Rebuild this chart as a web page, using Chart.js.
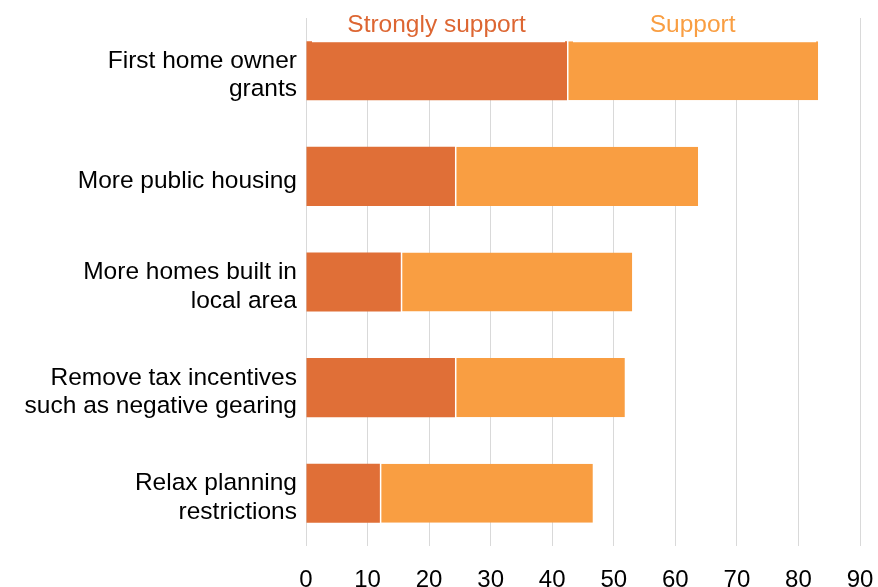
<!DOCTYPE html>
<html>
<head>
<meta charset="utf-8">
<script src="https://cdn.jsdelivr.net/npm/chart.js@4"></script>
<style>
  html, body { margin: 0; padding: 0; background: #fff; }
  #wrap { width: 878px; height: 587px; position: relative; }
</style>
</head>
<body>
<div id="wrap"><canvas id="chart"></canvas></div>
<script>
"use strict";

// Survey categories (y axis, top to bottom)
const categories = [
  ["First home owner", "grants"],
  ["More public housing"],
  ["More homes built in", "local area"],
  ["Remove tax incentives", "such as negative gearing"],
  ["Relax planning", "restrictions"]
];

// Series values (percent)
const stronglySupport = [42.4, 24.2, 15.4, 24.2, 12.0];
const support = [40.8, 39.5, 37.6, 27.6, 34.6];

const seriesNames = ["Strongly support", "Support"];
const xTicks = [0, 10, 20, 30, 40, 50, 60, 70, 80, 90];

const darkOrange = "#E06F37";
const lightOrange = "#F99E42";
const fontFamily = "'Liberation Sans', Arial, sans-serif";

// Draw the series names above the first bar, on white boxes that hide the grid
const topLabels = {
  id: "topLabels",
  afterDatasetsDraw(chart) {
    const ctx = chart.ctx;
    const x = chart.scales.x;
    const top = chart.getDatasetMeta(0).data[0];
    const barTop = top.y - top.height / 2;
    const segs = [
      [0, stronglySupport[0], "#DD6632"],
      [stronglySupport[0], stronglySupport[0] + support[0], lightOrange]
    ];
    ctx.save();
    segs.forEach((s, i) => {
      const x0 = x.getPixelForValue(s[0]);
      const x1 = x.getPixelForValue(s[1]);
      ctx.fillStyle = "#fff";
      ctx.fillRect(x0 + 6, 0, x1 - x0 - 8, barTop + 1);
      ctx.fillStyle = s[2];
      ctx.font = "24.5px " + fontFamily;
      ctx.textAlign = "center";
      ctx.textBaseline = "middle";
      ctx.fillText(seriesNames[i], (x0 + x1) / 2, 25);
    });
    ctx.restore();
  }
};

new Chart(document.getElementById("chart"), {
  type: "bar",
  data: {
    labels: categories,
    datasets: [
      {
        label: seriesNames[0],
        data: stronglySupport,
        backgroundColor: darkOrange,
        borderWidth: 0
      },
      {
        label: seriesNames[1],
        data: support,
        backgroundColor: lightOrange,
        borderColor: "#fff",
        borderSkipped: false,
        borderWidth: { left: 1.5, top: 0, right: 0, bottom: 0 }
      }
    ]
  },
  options: {
    indexAxis: "y",
    responsive: true,
    maintainAspectRatio: false,
    animation: false,
    layout: { padding: { top: 18, right: 18, left: 0, bottom: 0 } },
    datasets: { bar: { categoryPercentage: 0.8, barPercentage: 0.7 } },
    plugins: {
      legend: { display: false },
      tooltip: { enabled: false }
    },
    scales: {
      x: {
        stacked: true,
        min: 0,
        max: 90,
        afterBuildTicks: (scale) => { scale.ticks = xTicks.map(v => ({ value: v })); },
        afterFit: (scale) => {
          scale.height = 41;
          scale.paddingLeft = 0;
          scale.paddingRight = 0;
        },
        border: { display: false },
        grid: { color: "#d9d9d9", drawTicks: false, lineWidth: 1 },
        ticks: {
          color: "#000",
          padding: 20,
          font: { family: fontFamily, size: 24 }
        }
      },
      y: {
        stacked: true,
        afterFit: (scale) => {
          scale.width = 306;
          scale.paddingTop = 0;
          scale.paddingBottom = 0;
        },
        border: { display: false },
        grid: { display: false, drawTicks: false },
        ticks: {
          color: "#000",
          padding: 9,
          labelOffset: 4.5,
          font: { family: fontFamily, size: 24.5, lineHeight: 1.17 }
        }
      }
    }
  },
  plugins: [topLabels]
});
</script>
</body>
</html>
